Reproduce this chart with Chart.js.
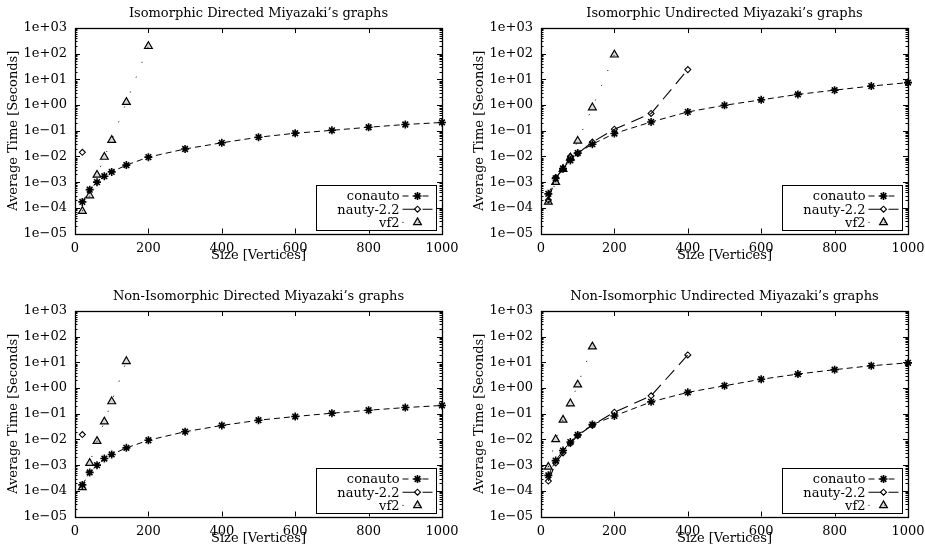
<!DOCTYPE html>
<html>
<head>
<meta charset="utf-8">
<script src="https://cdn.jsdelivr.net/npm/chart.js@4.4.1/dist/chart.umd.min.js"></script>
<style>
  html, body { margin: 0; padding: 0; background: #fff; }
  body { width: 925px; height: 548px; position: relative; overflow: hidden; }
  .cell { position: absolute; width: 462px; height: 274px; }
</style>
</head>
<body>
<div class="cell" style="left:0;top:0"><canvas id="c1" width="462" height="274"></canvas></div>
<div class="cell" style="left:466px;top:0"><canvas id="c2" width="462" height="274"></canvas></div>
<div class="cell" style="left:0;top:283px"><canvas id="c3" width="462" height="274"></canvas></div>
<div class="cell" style="left:466px;top:283px"><canvas id="c4" width="462" height="274"></canvas></div>
<script>
// graph sizes (vertices) used by every run
const sizes = [20, 40, 60, 80, 100, 140, 200, 300, 400, 500, 600, 700, 800, 900, 1000];
const xTicks = [0, 200, 400, 600, 800, 1000];
const yTickValues = [1e-5, 1e-4, 1e-3, 1e-2, 1e-1, 1e0, 1e1, 1e2, 1e3];
const yTickLabels = ['1e\u221205', '1e\u221204', '1e\u221203', '1e\u221202', '1e\u221201', '1e+00', '1e+01', '1e+02', '1e+03'];
const seriesNames = ['conauto', 'nauty-2.2', 'vf2'];
const titles = [
    'Isomorphic Directed Miyazaki\u2019s graphs',
    'Isomorphic Undirected Miyazaki\u2019s graphs',
    'Non-Isomorphic Directed Miyazaki\u2019s graphs',
    'Non-Isomorphic Undirected Miyazaki\u2019s graphs'
];

// average time in seconds, one value per size (shorter arrays stop early)
const isoDirConauto = [1.7e-4, 5.1e-4, 1.0e-3, 1.7e-3, 2.5e-3, 4.6e-3, 9.4e-3, 1.95e-2, 3.4e-2, 5.6e-2, 8.0e-2, 0.104, 0.137, 0.175, 0.21];
const isoDirNauty = [1.45e-2];
const isoDirVf2 = [7.4e-5, 3.0e-4, 1.9e-3, 9.5e-3, 4.3e-2, 1.3, 195];

const isoUndirConauto = [3.5e-4, 1.4e-3, 3.4e-3, 7.0e-3, 1.35e-2, 3.0e-2, 7.8e-2, 0.22, 0.54, 0.98, 1.6, 2.6, 3.8, 5.5, 7.5];
const isoUndirNauty = [2.0e-4, 1.5e-3, 3.2e-3, 1.0e-2, 1.3e-2, 3.6e-2, 0.115, 0.47, 24];
const isoUndirVf2 = [1.7e-4, 1.0e-3, 3.2e-3, 9.0e-3, 4.0e-2, 0.8, 91];

const nonIsoDirConauto = [1.7e-4, 5.2e-4, 1.0e-3, 1.8e-3, 2.6e-3, 4.7e-3, 9.3e-3, 2.0e-2, 3.5e-2, 5.6e-2, 7.8e-2, 0.105, 0.137, 0.174, 0.21];
const nonIsoDirNauty = [1.55e-2];
const nonIsoDirVf2 = [1.35e-4, 1.2e-3, 8.6e-3, 4.9e-2, 0.3, 11];

const nonIsoUndirConauto = [4.0e-4, 1.5e-3, 3.7e-3, 7.9e-3, 1.5e-2, 3.8e-2, 8.2e-2, 0.29, 0.68, 1.23, 2.2, 3.5, 5.2, 7.4, 9.6];
const nonIsoUndirNauty = [2.4e-4, 1.2e-3, 3.0e-3, 7.0e-3, 1.4e-2, 3.6e-2, 0.115, 0.5, 19.5];
const nonIsoUndirVf2 = [8.5e-4, 1.0e-2, 5.8e-2, 0.25, 1.35, 41];

Chart.defaults.font.family = "'DejaVu Serif', serif";
Chart.defaults.font.size = 13;
Chart.defaults.color = '#000';

const styles = [
    { borderDash: [6, 4], pointStyle: 'star', pointRadius: 4, pointBorder: 1.6, borderWidth: 1, fill: 'rgba(0,0,0,0)' },
    { borderDash: [13, 7], pointStyle: 'rectRot', pointRadius: 3, pointBorder: 1.1, borderWidth: 1.1, fill: 'rgba(0,0,0,0)' },
    { borderDash: [1, 15], pointStyle: 'triangle', pointRadius: 4.5, pointBorder: 1.2, borderWidth: 1, fill: 'rgba(0,0,0,0.15)' }
];

function pts(vals) {
    return vals.map((v, i) => ({ x: sizes[i], y: v }));
}

// gnuplot-like border with mirrored inward tics and the legend box
const framePlugin = {
    id: 'frame',
    afterDraw(chart) {
        const { ctx, chartArea: a, scales } = chart;
        const xs = scales.x, ys = scales.y;
        ctx.save();
        ctx.strokeStyle = '#000';
        ctx.lineWidth = 1;
        ctx.setLineDash([]);
        ctx.beginPath();
        xTicks.forEach(v => {
            const px = Math.round(xs.getPixelForValue(v)) + 0.5;
            ctx.moveTo(px, a.bottom); ctx.lineTo(px, a.bottom - 5);
            ctx.moveTo(px, a.top); ctx.lineTo(px, a.top + 5);
        });
        yTickValues.forEach((v, i) => {
            let py = Math.round(ys.getPixelForValue(v)) + 0.5;
            ctx.moveTo(a.left, py); ctx.lineTo(a.left + 5, py);
            ctx.moveTo(a.right, py); ctx.lineTo(a.right - 5, py);
            if (i < yTickValues.length - 1) {
                for (let k = 2; k < 10; k++) {
                    py = Math.round(ys.getPixelForValue(v * k)) + 0.5;
                    ctx.moveTo(a.left, py); ctx.lineTo(a.left + 2.5, py);
                    ctx.moveTo(a.right, py); ctx.lineTo(a.right - 2.5, py);
                }
            }
        });
        ctx.stroke();
        ctx.lineWidth = 1.3;
        ctx.strokeRect(Math.round(a.left) + 0.5, Math.round(a.top) + 0.5, Math.round(a.right - a.left), Math.round(a.bottom - a.top));

        // legend
        const bw = 120, bh = 45;
        const bx = Math.round(a.right - 6 - bw) + 0.5, by = Math.round(a.bottom - 4 - bh) + 0.5;
        ctx.fillStyle = '#fff';
        ctx.fillRect(bx, by, bw, bh);
        ctx.lineWidth = 1;
        ctx.strokeRect(bx, by, bw, bh);
        ctx.font = "13px 'DejaVu Serif', serif";
        ctx.textAlign = 'right';
        ctx.textBaseline = 'middle';
        chart.data.datasets.forEach((ds, i) => {
            const y = by + 10.5 + i * 13.2;
            ctx.fillStyle = '#000';
            ctx.fillText(ds.label, bx + bw - 37, y + 1);
            ctx.beginPath();
            ctx.setLineDash(ds.borderDash);
            ctx.lineWidth = ds.borderWidth;
            ctx.moveTo(bx + bw - 34, y);
            ctx.lineTo(bx + bw - 4, y);
            ctx.stroke();
            ctx.setLineDash([]);
            ctx.lineWidth = ds.pointBorderWidth;
            ctx.fillStyle = ds.pointBackgroundColor;
            Chart.helpers.drawPoint(ctx, { pointStyle: ds.pointStyle, radius: ds.pointRadius, borderWidth: ds.pointBorderWidth, rotation: 0 }, bx + bw - 19, y);
        });
        ctx.restore();
    }
};

function makeChart(id, title, series) {
    const datasets = series.map((vals, i) => ({
        label: seriesNames[i],
        data: pts(vals),
        borderColor: '#000',
        borderWidth: styles[i].borderWidth,
        borderDash: styles[i].borderDash,
        pointStyle: styles[i].pointStyle,
        pointRadius: styles[i].pointRadius,
        pointBorderWidth: styles[i].pointBorder,
        pointBorderColor: '#000',
        pointBackgroundColor: styles[i].fill,
        tension: 0,
        clip: false
    }));
    new Chart(document.getElementById(id), {
        type: 'line',
        data: { datasets },
        options: {
            responsive: false,
            animation: false,
            layout: { padding: { left: 0, right: 20, top: 0, bottom: 0 } },
            plugins: {
                legend: { display: false },
                tooltip: { enabled: false },
                title: {
                    display: true,
                    fullSize: false,
                    text: title,
                    color: '#000',
                    font: { size: 13, weight: 'normal' },
                    padding: { top: 5.7, bottom: 6.7 }
                }
            },
            scales: {
                x: {
                    type: 'linear',
                    min: 0,
                    max: 1000,
                    afterBuildTicks: ax => { ax.ticks = xTicks.map(v => ({ value: v })); },
                    afterFit: ax => { ax.height = 40.5; },
                    grid: { display: false },
                    border: { display: false },
                    ticks: { color: '#000', padding: -1, maxRotation: 0, autoSkip: false, callback: v => String(v) },
                    title: { display: true, text: 'Size [Vertices]', color: '#000', padding: { top: 0, bottom: 11 } }
                },
                y: {
                    type: 'logarithmic',
                    min: 1e-5,
                    max: 1e3,
                    afterBuildTicks: ax => { ax.ticks = yTickValues.map(v => ({ value: v })); },
                    afterFit: ax => { ax.width = 75; },
                    grid: { display: false },
                    border: { display: false },
                    ticks: { color: '#000', padding: 0, autoSkip: false, callback: (v, i) => yTickLabels[i] },
                    title: { display: true, text: 'Average Time [Seconds]', color: '#000', padding: { top: 6.2, bottom: 0 } }
                }
            }
        },
        plugins: [framePlugin]
    });
}

makeChart('c1', titles[0], [isoDirConauto, isoDirNauty, isoDirVf2]);
makeChart('c2', titles[1], [isoUndirConauto, isoUndirNauty, isoUndirVf2]);
makeChart('c3', titles[2], [nonIsoDirConauto, nonIsoDirNauty, nonIsoDirVf2]);
makeChart('c4', titles[3], [nonIsoUndirConauto, nonIsoUndirNauty, nonIsoUndirVf2]);
</script>
</body>
</html>
